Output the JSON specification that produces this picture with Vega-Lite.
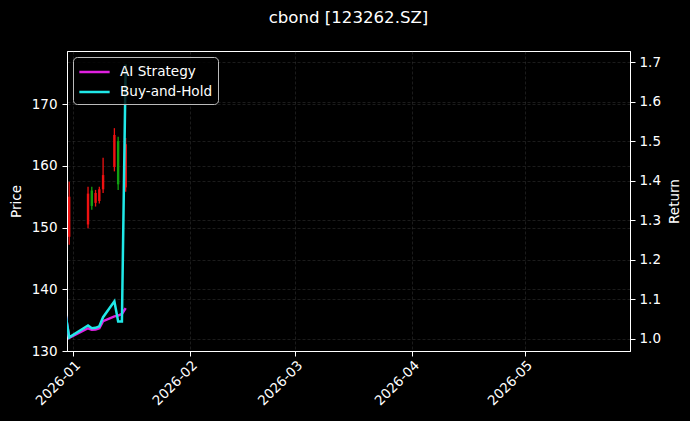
{
  "$schema": "https://vega.github.io/schema/vega-lite/v6.json",
  "width": 563,
  "height": 300,
  "autosize": {"type": "none"},
  "padding": {"left": 67, "top": 51, "right": 60, "bottom": 70},
  "background": "#000000",
  "title": {"text": "cbond [123262.SZ]", "color": "#ffffff", "fontSize": 16.6, "font": "DejaVu Sans", "fontWeight": "normal", "anchor": "middle", "offset": 24},
  "config": {
    "view": {"stroke": "#ffffff", "strokeWidth": 1},
    "axis": {
      "labelColor": "#ffffff", "titleColor": "#ffffff", "tickColor": "#ffffff", "domainColor": "#ffffff",
      "labelFont": "DejaVu Sans", "titleFont": "DejaVu Sans", "labelFontSize": 13.5, "titleFontSize": 13.5,
      "titleFontWeight": "normal", "gridColor": "#808080", "gridOpacity": 0.35, "gridDash": [3, 2], "gridWidth": 0.6,
      "tickSize": 5, "domainWidth": 1
    },
    "legend": {
      "fillColor": "rgba(0,0,0,0.8)", "strokeColor": "#bbbbbb", "cornerRadius": 4, "padding": 5,
      "labelColor": "#ffffff", "labelFont": "DejaVu Sans", "labelFontSize": 13.6,
      "symbolType": "M-1,0H2.5", "symbolSize": 300, "symbolStrokeWidth": 2.5, "labelOffset": 22, "rowPadding": 3, "offset": 6
    }
  },
  "datasets": {
    "candles": [
      {"date": "2025-12-31", "open": 148.5, "high": 157.4, "low": 147.2, "close": 155.0},
      {"date": "2026-01-05", "open": 150.5, "high": 156.6, "low": 149.9, "close": 155.5},
      {"date": "2026-01-06", "open": 156.0, "high": 156.6, "low": 152.9, "close": 153.5},
      {"date": "2026-01-07", "open": 154.0, "high": 156.1, "low": 153.4, "close": 155.6},
      {"date": "2026-01-08", "open": 154.3, "high": 156.6, "low": 153.9, "close": 156.2},
      {"date": "2026-01-09", "open": 156.2, "high": 161.3, "low": 155.6, "close": 158.5},
      {"date": "2026-01-12", "open": 159.8, "high": 166.1, "low": 159.1, "close": 165.0},
      {"date": "2026-01-13", "open": 164.0, "high": 164.7, "low": 156.1, "close": 157.0},
      {"date": "2026-01-15", "open": 156.5, "high": 164.5, "low": 155.8, "close": 163.5}
    ],
    "returns": [
      {"date": "2025-12-30", "series": "AI Strategy", "value": 1.065},
      {"date": "2025-12-31", "series": "AI Strategy", "value": 1.003},
      {"date": "2026-01-05", "series": "AI Strategy", "value": 1.027},
      {"date": "2026-01-06", "series": "AI Strategy", "value": 1.023},
      {"date": "2026-01-07", "series": "AI Strategy", "value": 1.024},
      {"date": "2026-01-08", "series": "AI Strategy", "value": 1.027},
      {"date": "2026-01-09", "series": "AI Strategy", "value": 1.045},
      {"date": "2026-01-12", "series": "AI Strategy", "value": 1.057},
      {"date": "2026-01-13", "series": "AI Strategy", "value": 1.059},
      {"date": "2026-01-14", "series": "AI Strategy", "value": 1.063},
      {"date": "2026-01-15", "series": "AI Strategy", "value": 1.078},
      {"date": "2025-12-30", "series": "Buy-and-Hold", "value": 1.065},
      {"date": "2025-12-31", "series": "Buy-and-Hold", "value": 1.004},
      {"date": "2026-01-05", "series": "Buy-and-Hold", "value": 1.034},
      {"date": "2026-01-06", "series": "Buy-and-Hold", "value": 1.027},
      {"date": "2026-01-07", "series": "Buy-and-Hold", "value": 1.028},
      {"date": "2026-01-08", "series": "Buy-and-Hold", "value": 1.032},
      {"date": "2026-01-09", "series": "Buy-and-Hold", "value": 1.055},
      {"date": "2026-01-12", "series": "Buy-and-Hold", "value": 1.095},
      {"date": "2026-01-13", "series": "Buy-and-Hold", "value": 1.044},
      {"date": "2026-01-14", "series": "Buy-and-Hold", "value": 1.044},
      {"date": "2026-01-15", "series": "Buy-and-Hold", "value": 1.694}
    ]
  },
  "layer": [
    {
      "data": {"name": "candles"},
      "mark": {"type": "rule", "strokeWidth": 1.3},
      "encoding": {
        "x": {
          "field": "date", "type": "temporal",
          "scale": {"type": "utc", "domain": [
            {"year": 2025, "month": 12, "date": 30, "hours": 10, "utc": true},
            {"year": 2026, "month": 5, "date": 28, "hours": 22, "utc": true}
          ]},
          "axis": {
            "title": null, "format": "%Y-%m", "labelAngle": -45, "labelAlign": "right", "labelBaseline": "top",
            "grid": true, "labelPadding": 2,
            "values": [
              {"year": 2026, "month": 1, "date": 1, "utc": true},
              {"year": 2026, "month": 2, "date": 1, "utc": true},
              {"year": 2026, "month": 3, "date": 1, "utc": true},
              {"year": 2026, "month": 4, "date": 1, "utc": true},
              {"year": 2026, "month": 5, "date": 1, "utc": true}
            ]
          }
        },
        "y": {
          "field": "low", "type": "quantitative",
          "scale": {"domain": [130, 178.6], "nice": false, "zero": false},
          "axis": {"title": "Price", "values": [130, 140, 150, 160, 170], "grid": true, "labelPadding": 5, "titlePadding": 8}
        },
        "y2": {"field": "high"},
        "color": {"condition": {"test": "datum.close >= datum.open", "value": "#ee1111"}, "value": "#11a011"}
      }
    },
    {
      "data": {"name": "candles"},
      "mark": {"type": "rule", "strokeWidth": 2.4},
      "encoding": {
        "x": {"field": "date", "type": "temporal"},
        "y": {
          "field": "open", "type": "quantitative",
          "scale": {"domain": [130, 178.6], "nice": false, "zero": false},
          "axis": null
        },
        "y2": {"field": "close"},
        "color": {"condition": {"test": "datum.close >= datum.open", "value": "#ee1111"}, "value": "#11a011"}
      }
    },
    {
      "data": {"name": "returns"},
      "mark": {"type": "line", "strokeWidth": 2.5, "clip": true},
      "encoding": {
        "x": {"field": "date", "type": "temporal"},
        "y": {
          "field": "value", "type": "quantitative",
          "scale": {"domain": [0.9695, 1.728], "nice": false, "zero": false},
          "axis": {"orient": "right", "title": "Return", "titleAngle": -90, "titleBaseline": "top", "values": [1.0, 1.1, 1.2, 1.3, 1.4, 1.5, 1.6, 1.7], "format": ".1f", "grid": true, "labelPadding": 4, "titlePadding": 7}
        },
        "color": {
          "field": "series", "type": "nominal",
          "scale": {"domain": ["AI Strategy", "Buy-and-Hold"], "range": ["#e020e0", "#20e8e8"]},
          "legend": {"title": null, "orient": "top-left"}
        }
      }
    }
  ],
  "resolve": {"scale": {"y": "independent"}}
}
